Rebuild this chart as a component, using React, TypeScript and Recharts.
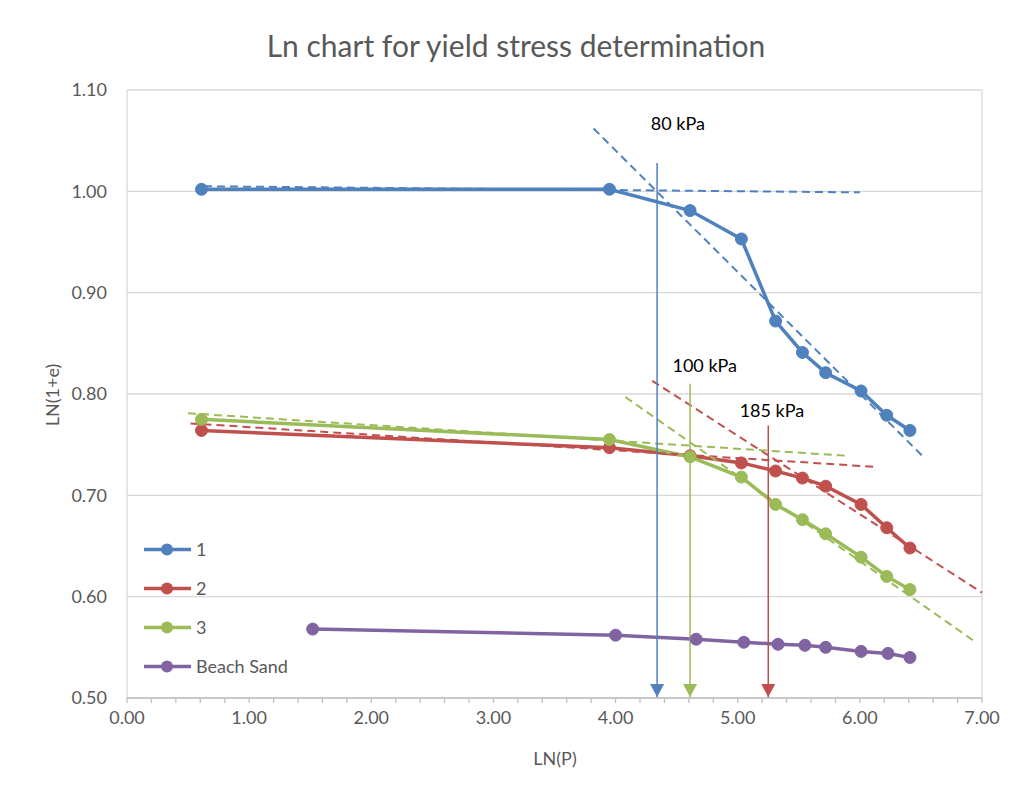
import { CartesianGrid, Legend, Line, LineChart, ReferenceDot, XAxis, YAxis } from "recharts";

// ln(P) of each load step and ln(1+e) per sample
const lnP = [0.61, 3.95, 4.61, 5.03, 5.31, 5.53, 5.72, 6.01, 6.22, 6.41];
const sample1 = [1.002, 1.002, 0.981, 0.953, 0.872, 0.841, 0.821, 0.803, 0.779, 0.764];
const sample2 = [0.764, 0.747, 0.739, 0.732, 0.724, 0.717, 0.709, 0.691, 0.668, 0.648];
const sample3 = [0.775, 0.755, 0.738, 0.718, 0.691, 0.676, 0.662, 0.639, 0.62, 0.607];
const sandLnP = [1.52, 4.0, 4.66, 5.05, 5.33, 5.55, 5.72, 6.01, 6.23, 6.41];
const sand = [0.568, 0.562, 0.558, 0.555, 0.553, 0.552, 0.55, 0.546, 0.544, 0.54];

// hand-drawn tangent lines (start / end)
const trendX = [
  [0.63, 6.0],
  [3.82, 6.52],
  [0.52, 6.14],
  [4.3, 7.0],
  [0.5, 5.9],
  [4.08, 6.95],
];
const trendY = [
  [1.005, 0.999],
  [1.062, 0.738],
  [0.771, 0.728],
  [0.813, 0.604],
  [0.781, 0.739],
  [0.797, 0.555],
];
const trendSeries = [0, 0, 1, 1, 2, 2];

// yield stress picks
const yieldLabels = ["80 kPa", "100 kPa", "185 kPa"];
const yieldLnP = [4.34, 4.61, 5.25];
const yieldTop = [1.028, 0.81, 0.769];
const yieldSeries = [0, 2, 1];

const seriesNames = ["1", "2", "3", "Beach Sand"];
const colors = ["#4F81BD", "#C0504D", "#9BBB59", "#8064A2"];

const xTicks = [0, 1, 2, 3, 4, 5, 6, 7];
const xMinorTicks = [
  0, 0.2, 0.4, 0.6, 0.8, 1, 1.2, 1.4, 1.6, 1.8, 2, 2.2, 2.4, 2.6, 2.8, 3, 3.2, 3.4, 3.6, 3.8, 4, 4.2,
  4.4, 4.6, 4.8, 5, 5.2, 5.4, 5.6, 5.8, 6, 6.2, 6.4, 6.6, 6.8, 7,
];
const yTicks = [0.5, 0.6, 0.7, 0.8, 0.9, 1.0, 1.1];

const pts = (xs: number[], ys: number[]) => xs.map((x, i) => ({ x, y: ys[i] }));

const series = [
  pts(lnP, sample1),
  pts(lnP, sample2),
  pts(lnP, sample3),
  pts(sandLnP, sand),
];

const FONT = "Lato, 'Open Sans', sans-serif";
const GREY = "#595959";

function ArrowHead(props: any) {
  const { cx, cy, index, stroke } = props;
  if (index !== 1) return <g key={`a-${index}`} />;
  return (
    <path
      key={`a-${index}`}
      d={`M${cx - 7},${cy - 14} L${cx + 7},${cy - 14} L${cx},${cy - 1} Z`}
      fill={stroke}
      stroke="none"
    />
  );
}

function LegendRows(props: any) {
  const items = (props.payload ?? []).filter((p: any) => p.type !== "none");
  return (
    <svg width={170} height={items.length * 39} style={{ fontFamily: FONT }}>
      {items.map((p: any, i: number) => (
        <g key={p.value} transform={`translate(0, ${i * 39 + 19.5})`}>
          <line x1={4} x2={51} y1={0} y2={0} stroke={p.color} strokeWidth={3.5} />
          <circle cx={27} cy={0} r={6} fill={p.color} />
          <text x={56} y={0} dy="0.35em" fontSize={18} fill={GREY}>
            {p.value}
          </text>
        </g>
      ))}
    </svg>
  );
}

export default function App() {
  return (
    <div
      style={{
        position: "relative",
        margin: -8,
        width: 1016,
        height: 798,
        overflow: "hidden",
        background: "#fff",
        fontFamily: FONT,
      }}
    >
      <div
        style={{
          position: "absolute",
          left: 7,
          top: 4,
          width: 1040,
          height: 820,
          border: "1.5px solid #d9d9d9",
        }}
      />
      <div
        style={{
          position: "absolute",
          left: 516,
          top: 45,
          transform: "translate(-50%, -50%)",
          fontSize: 30,
          color: GREY,
          whiteSpace: "nowrap",
          lineHeight: 1,
        }}
      >
        Ln chart for yield stress determination
      </div>
      <div
        style={{
          position: "absolute",
          left: 555,
          top: 758,
          transform: "translate(-50%, -50%)",
          fontSize: 18,
          color: GREY,
          lineHeight: 1,
        }}
      >
        LN(P)
      </div>
      <div
        style={{
          position: "absolute",
          left: 52,
          top: 395,
          transform: "translate(-50%, -50%) rotate(-90deg)",
          fontSize: 18,
          color: GREY,
          whiteSpace: "nowrap",
          lineHeight: 1,
        }}
      >
        LN(1+e)
      </div>

      <LineChart
        width={1016}
        height={798}
        margin={{ top: 90, right: 34, bottom: 70, left: 57 }}
        style={{ position: "absolute", left: 0, top: 0, fontFamily: FONT }}
      >
        {/* integer-only axis drives the vertical grid */}
        <XAxis xAxisId="grid" type="number" dataKey="x" domain={[0, 7]} ticks={xTicks} hide />
        <CartesianGrid xAxisId="grid" stroke="#d9d9d9" strokeWidth={1.3} />
        <XAxis
          type="number"
          dataKey="x"
          domain={[0, 7]}
          ticks={xMinorTicks}
          interval={0}
          tickFormatter={(v: number) => (Number.isInteger(v) ? v.toFixed(2) : "")}
          height={30}
          axisLine={{ stroke: "#bfbfbf", strokeWidth: 1.3 }}
          tickLine={{ stroke: "#bfbfbf", strokeWidth: 1.3 }}
          tickSize={5}
          tickMargin={8}
          tick={{ fontSize: 18, fill: GREY }}
        />
        <YAxis
          type="number"
          dataKey="y"
          domain={[0.5, 1.1]}
          ticks={yTicks}
          tickFormatter={(v: number) => v.toFixed(2)}
          width={70}
          axisLine={false}
          tickLine={false}
          tickSize={6}
          tickMargin={14}
          tick={{ fontSize: 18, fill: GREY }}
        />
        <Legend
          layout="vertical"
          align="center"
          verticalAlign="middle"
          content={LegendRows}
          wrapperStyle={{ left: 140, top: 530, width: 170 }}
        />

        {series.map((data, i) => (
          <Line
            key={seriesNames[i]}
            name={seriesNames[i]}
            data={data}
            dataKey="y"
            type="linear"
            stroke={colors[i]}
            strokeWidth={3.5}
            dot={{ r: 6, fill: colors[i], stroke: colors[i], strokeWidth: 1 }}
            activeDot={false}
            isAnimationActive={false}
          />
        ))}

        {trendX.map((xs, i) => (
          <Line
            key={`trend-${i}`}
            data={pts(xs, trendY[i])}
            dataKey="y"
            type="linear"
            stroke={colors[trendSeries[i]]}
            strokeWidth={2}
            strokeDasharray="8 5"
            dot={false}
            activeDot={false}
            legendType="none"
            isAnimationActive={false}
          />
        ))}

        {yieldLnP.map((x, i) => (
          <Line
            key={`yield-${i}`}
            data={pts([x, x], [yieldTop[i], 0.5])}
            dataKey="y"
            type="linear"
            stroke={colors[yieldSeries[i]]}
            strokeWidth={1.5}
            dot={ArrowHead}
            activeDot={false}
            legendType="none"
            isAnimationActive={false}
          />
        ))}

        <ReferenceDot
          x={4.51}
          y={1.067}
          r={0}
          fill="none"
          stroke="none"
          label={{ value: yieldLabels[0], position: "center", fill: "#000", fontSize: 18 }}
        />
        <ReferenceDot
          x={4.73}
          y={0.828}
          r={0}
          fill="none"
          stroke="none"
          label={{ value: yieldLabels[1], position: "center", fill: "#000", fontSize: 18 }}
        />
        <ReferenceDot
          x={5.28}
          y={0.784}
          r={0}
          fill="none"
          stroke="none"
          label={{ value: yieldLabels[2], position: "center", fill: "#000", fontSize: 18 }}
        />
      </LineChart>
    </div>
  );
}
